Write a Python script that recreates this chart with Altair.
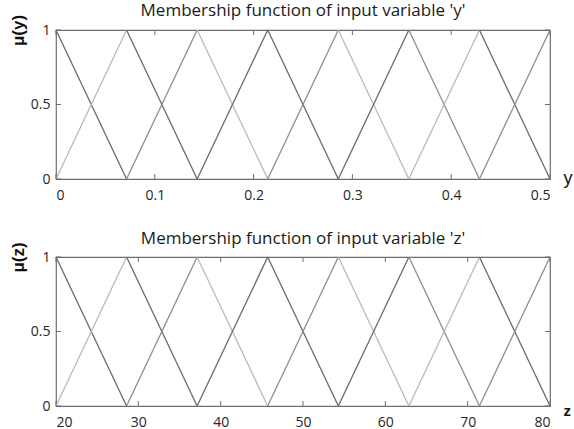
import altair as alt
import pandas as pd

# Centres of the eight triangular membership functions on each input
y_centers = [0.0, 0.0714, 0.1429, 0.2143, 0.2857, 0.3571, 0.4286, 0.5]
z_centers = [20.0, 28.57, 37.14, 45.71, 54.29, 62.86, 71.43, 80.0]

y_ticks = [0.0, 0.1, 0.2, 0.3, 0.4, 0.5]
z_ticks = [20, 30, 40, 50, 60, 70, 80]
mu_ticks = [0.0, 0.5, 1.0]

# Grey shade of each falling / rising edge between two neighbouring centres
falling_shade = ["dark", "dark", "light", "dark", "light", "mid", "dark"]
rising_shade = ["light", "mid", "dark", "mid", "dark", "light", "mid"]

W, H = 494, 149
TICK_LEN = 5
FONT = "Open Sans"
FRAME = "#6e6e6e"


def edges(centers):
    rows = []
    for i in range(len(centers) - 1):
        a, b = centers[i], centers[i + 1]
        # edge falling from the peak at a to zero at b
        rows.append({"seg": f"f{i}", "x": a, "mu": 1.0, "shade": falling_shade[i], "o": 0})
        rows.append({"seg": f"f{i}", "x": b, "mu": 0.0, "shade": falling_shade[i], "o": 1})
        # edge rising from zero at a to the peak at b
        rows.append({"seg": f"r{i}", "x": a, "mu": 0.0, "shade": rising_shade[i], "o": 0})
        rows.append({"seg": f"r{i}", "x": b, "mu": 1.0, "shade": rising_shade[i], "o": 1})
    return pd.DataFrame(rows)


def panel(centers, ticks, lo, hi, var, fmt, xtitle_y, xtitle_size, xtitle_weight):
    xs = alt.Scale(domain=[lo, hi], nice=False, zero=False)
    ys = alt.Scale(domain=[0, 1], nice=False)
    x_axis = alt.Axis(
        values=ticks, format=fmt, domain=False, ticks=False, grid=False,
        labelFont=FONT, labelFontSize=14, labelColor="#262626", labelPadding=9,
        title=var, titleFont="Liberation Sans", titleFontSize=xtitle_size,
        titleFontWeight=xtitle_weight, titleColor="#111111",
        titleX=W + 13, titleY=xtitle_y, titleAlign="left", titleBaseline="alphabetic",
    )
    y_axis = alt.Axis(
        values=mu_ticks, format="~g", domain=False, ticks=False, grid=False,
        labelFont=FONT, labelFontSize=14, labelColor="#262626", labelPadding=6,
        title=f"\u03bc({var})", titleFont="Liberation Sans", titleFontSize=17,
        titleFontWeight="bold", titleColor="#111111",
        titleX=-29, titleY=0, titleAlign="center", titleBaseline="bottom", titleAngle=-90,
    )

    lines = alt.Chart(edges(centers)).mark_line(strokeWidth=1.3).encode(
        x=alt.X("x:Q", scale=xs, axis=x_axis),
        y=alt.Y("mu:Q", scale=ys, axis=y_axis),
        detail="seg:N",
        order="o:Q",
        color=alt.Color(
            "shade:N",
            scale=alt.Scale(domain=["dark", "mid", "light"],
                            range=["#6a6a6a", "#8e8e8e", "#b9b9b9"]),
            legend=None,
        ),
    )

    xt = pd.DataFrame({"t": ticks})
    yt = pd.DataFrame({"t": mu_ticks})
    bottom_ticks = alt.Chart(xt).mark_rule(color=FRAME, strokeWidth=1).encode(
        x=alt.X("t:Q", scale=xs), y=alt.value(H), y2=alt.value(H - TICK_LEN))
    top_ticks = alt.Chart(xt).mark_rule(color=FRAME, strokeWidth=1).encode(
        x=alt.X("t:Q", scale=xs), y=alt.value(0), y2=alt.value(TICK_LEN))
    left_ticks = alt.Chart(yt).mark_rule(color=FRAME, strokeWidth=1).encode(
        y=alt.Y("t:Q", scale=ys), x=alt.value(0), x2=alt.value(TICK_LEN))
    right_ticks = alt.Chart(yt).mark_rule(color=FRAME, strokeWidth=1).encode(
        y=alt.Y("t:Q", scale=ys), x=alt.value(W), x2=alt.value(W - TICK_LEN))

    return alt.layer(lines, bottom_ticks, top_ticks, left_ticks, right_ticks).properties(
        width=W, height=H,
        title=alt.TitleParams(
            f"Membership function of input variable '{var}'",
            font=FONT, fontSize=17, fontWeight="normal", color="#1a1a1a",
            anchor="middle", offset=-6,
        ),
    )


top = panel(y_centers, y_ticks, 0.0, 0.5, "y", "~g", 4, 18, "normal")
bottom = panel(z_centers, z_ticks, 20, 80, "z", "d", 9, 15, "bold")

chart = alt.vconcat(top, bottom, spacing=78, bounds="flush").properties(
    padding={"left": 8, "top": 1, "right": 0, "bottom": 0},
    background="white",
).configure_view(stroke=FRAME, strokeWidth=1.2)

chart.save("out.html", embed_options={"renderer": "svg", "actions": False})
